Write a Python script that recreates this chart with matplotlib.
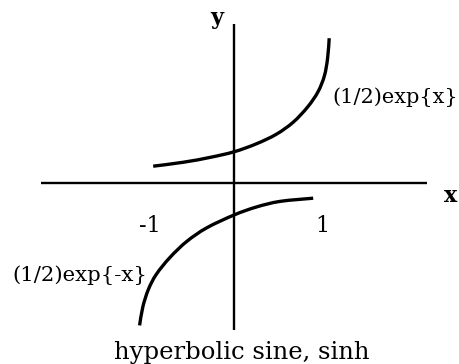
import matplotlib
matplotlib.use("Agg")
import matplotlib.pyplot as plt
from matplotlib.path import Path
from matplotlib.patches import PathPatch

# Sketch of the two half-exponential branches that make up sinh
upper_x = [-1.01, -0.63, -0.3, 0.0, 0.28, 0.53, 0.74, 0.92, 1.05, 1.13, 1.17, 1.19]
upper_y = [0.21, 0.26, 0.32, 0.39, 0.49, 0.61, 0.76, 0.95, 1.14, 1.34, 1.56, 1.81]
lower_x = [0.99, 0.575, 0.28, 0.0, -0.34, -0.59, -0.8, -0.97, -1.07, -1.14, -1.18]
lower_y = [-0.19, -0.23, -0.30, -0.40, -0.56, -0.73, -0.93, -1.14, -1.33, -1.55, -1.78]

tick_values = [-1, 1]
tick_labels = ["-1", "1"]
upper_label = "(1/2)exp{x}"
lower_label = "(1/2)exp{-x}"
caption = "hyperbolic sine, sinh"


def smooth_path(xs, ys):
    """Catmull-Rom style cubic Bezier path through the given points."""
    pts = list(zip(xs, ys))
    verts = [pts[0]]
    codes = [Path.MOVETO]
    n = len(pts)
    for i in range(n - 1):
        p0 = pts[max(i - 1, 0)]
        p1 = pts[i]
        p2 = pts[i + 1]
        p3 = pts[min(i + 2, n - 1)]
        c1 = (p1[0] + (p2[0] - p0[0]) / 6, p1[1] + (p2[1] - p0[1]) / 6)
        c2 = (p2[0] - (p3[0] - p1[0]) / 6, p2[1] - (p3[1] - p1[1]) / 6)
        verts += [c1, c2, p2]
        codes += [Path.CURVE4] * 3
    return Path(verts, codes)


fig = plt.figure(figsize=(4.59, 3.64), dpi=100)
ax = fig.add_axes([0, 0, 1, 1])
ax.set_xlim(-2.925, 2.8125)
ax.set_ylim(-2.2625, 2.2875)
ax.axis("off")

serif = ["DejaVu Serif"]
ink = "black"

# coordinate axes through the origin
ax.plot([-2.41, 2.41], [0, 0], color=ink, lw=1.7, solid_capstyle="butt")
ax.plot([0, 0], [-1.84, 1.99], color=ink, lw=1.7, solid_capstyle="butt")

# the two branches
for xs, ys in ((upper_x, upper_y), (lower_x, lower_y)):
    ax.add_patch(PathPatch(smooth_path(xs, ys), facecolor="none",
                           edgecolor=ink, lw=2.4, capstyle="butt"))

# axis names
ax.text(-0.22, 2.06, "y", family=serif, fontsize=16, fontweight="bold",
        ha="center", va="center")
ax.text(2.705, -0.16, "x", family=serif, fontsize=16, fontweight="bold",
        ha="center", va="center")

# tick labels below the x-axis (nudged the way they sit on the sketch)
tick_nudge = [-0.05, 0.1]
for v, lab, dx in zip(tick_values, tick_labels, tick_nudge):
    ax.text(v + dx, -0.54, lab, family=serif, fontsize=16,
            ha="center", va="center")

# curve labels
ax.text(1.225, 1.07, upper_label, family=serif, fontsize=15,
        ha="left", va="center")
ax.text(-1.09, -1.15, lower_label, family=serif, fontsize=15.3,
        ha="right", va="center")

# caption
ax.text(0.1, -2.12, caption, family=serif, fontsize=17.5,
        ha="center", va="center")

fig.savefig("out.png", dpi=100, facecolor="white")
